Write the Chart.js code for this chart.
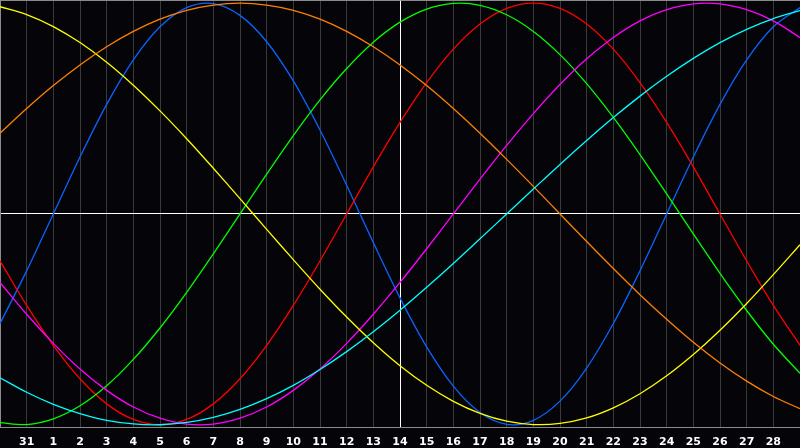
<!DOCTYPE html>
<html>
<head>
<meta charset="utf-8">
<title>Biorhythm</title>
<script src="https://cdn.jsdelivr.net/npm/chart.js@4.4.1/dist/chart.umd.min.js"></script>
<style>
html,body{margin:0;padding:0;background:#050409;}
#wrap{width:800px;height:448px;position:relative;}
</style>
</head>
<body>
<div id="wrap"><canvas id="bioChart"></canvas></div>
<script>

// ---------------- Data ----------------

const days = ["30","31","1","2","3","4","5","6","7","8","9","10","11","12","13","14",
              "15","16","17","18","19","20","21","22","23","24","25","26","27","28","1"];

// 23 day cycle
const physical = [-52.0,-27.0,0,27.0,52.0,73.1,88.8,97.9,99.8,94.2,81.7,63.1,39.8,13.6,-13.6,-39.8,
                  -63.1,-81.7,-94.2,-99.8,-97.9,-88.8,-73.1,-52.0,-27.0,0,27.0,52.0,73.1,88.8,97.9];

// 28 day cycle
const emotional = [-22.3,-43.4,-62.3,-78.2,-90.1,-97.5,-100,-97.5,-90.1,-78.2,-62.3,-43.4,-22.3,0,22.3,43.4,
                   62.3,78.2,90.1,97.5,100,97.5,90.1,78.2,62.3,43.4,22.3,0,-22.3,-43.4,-62.3];

// 33 day cycle
const intellectual = [-99.0,-99.9,-97.2,-91.0,-81.5,-69.0,-54.1,-37.2,-18.9,0,18.9,37.2,54.1,69.0,81.5,91.0,
                      97.2,99.9,99.0,94.5,86.6,75.6,61.8,45.8,28.2,9.5,-9.5,-28.2,-45.8,-61.8,-75.6];

// 38 day cycle
const intuitive = [-32.5,-47.6,-61.4,-73.6,-83.7,-91.6,-96.9,-99.7,-99.7,-96.9,-91.6,-83.7,-73.6,-61.4,-47.6,-32.5,
                   -16.5,0,16.5,32.5,47.6,61.4,73.6,83.7,91.6,96.9,99.7,99.7,96.9,91.6,83.7];

// 43 day cycle
const aesthetic = [98.3,94.6,88.9,81.3,72.0,61.1,48.9,35.7,21.7,7.3,-7.3,-21.7,-35.7,-48.9,-61.1,-72.0,
                   -81.3,-88.9,-94.6,-98.3,-99.9,-99.4,-96.8,-92.0,-85.3,-76.8,-66.7,-55.2,-42.5,-28.8,-14.6];

// 48 day cycle
const awareness = [38.3,50.0,60.9,70.7,79.3,86.6,92.4,96.6,99.1,100,99.1,96.6,92.4,86.6,79.3,70.7,
                   60.9,50.0,38.3,25.9,13.1,0,-13.1,-25.9,-38.3,-50.0,-60.9,-70.7,-79.3,-86.6,-92.4];

// 53 day cycle
const spiritual = [-77.7,-84.6,-90.3,-94.7,-97.9,-99.6,-100,-98.9,-96.5,-92.7,-87.6,-81.3,-73.8,-65.3,-55.9,-45.7,
                   -34.8,-23.5,-11.8,0,11.8,23.5,34.8,45.7,55.9,65.3,73.8,81.3,87.6,92.7,96.5];

const todayIndex = 15;

// ---------------- Chart ----------------

function line(label, data, color){
    return {
        label: label,
        data: data,
        borderColor: color,
        borderWidth: 1.3,
        pointRadius: 0,
        pointHoverRadius: 0,
        tension: 0.33,
        fill: false
    };
}

const ctx = document.getElementById("bioChart");

new Chart(ctx, {

    type: "line",

    data: {
        labels: days,
        datasets: [
            line("Spiritual", spiritual, "#00ffff"),
            line("Awareness", awareness, "#ff8000"),
            line("Aesthetic", aesthetic, "#ffff00"),
            line("Intuitive", intuitive, "#ff00ff"),
            line("Intellectual", intellectual, "#00ff00"),
            line("Emotional", emotional, "#ff0000"),
            line("Physical", physical, "#0a64ff")
        ]
    },

    options: {
        responsive: true,
        maintainAspectRatio: false,
        animation: false,
        layout: { padding: 0, autoPadding: false },
        plugins: {
            legend: { display: false },
            tooltip: { enabled: false }
        },
        scales: {
            x: {
                offset: false,
                grid: {
                    drawTicks: true,
                    tickLength: 8,
                    tickColor: "rgba(0,0,0,0)",
                    color: c => c.index === todayIndex ? "#ffffff" : "#3a3a3a"
                },
                border: { color: "#8a8a8a" },
                ticks: {
                    autoSkip: false,
                    maxRotation: 0,
                    padding: 0,
                    color: "#ffffff",
                    font: { family: "DejaVu Sans", size: 11, weight: "bold", lineHeight: 1.1 },
                    callback: (v, i) => (i === 0 || i === days.length - 1) ? "" : days[i]
                }
            },
            y: {
                min: -101.5,
                max: 101.5,
                afterBuildTicks: s => {
                    s.ticks = [{value: -101.5}, {value: 0}, {value: 101.5}];
                },
                grid: {
                    drawTicks: false,
                    color: c => c.tick && c.tick.value === 0 ? "#ffffff" : "#8a8a8a"
                },
                border: { color: "#8a8a8a" },
                ticks: { display: false, padding: 0 }
            }
        }
    }

});

</script>
</body>
</html>
